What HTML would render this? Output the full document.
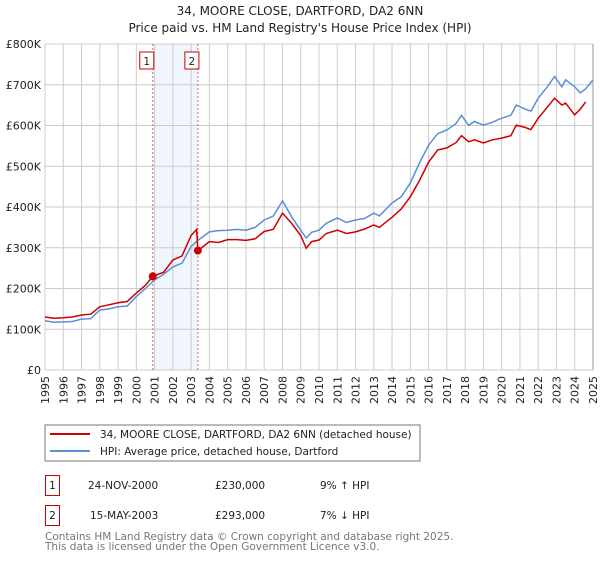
<!DOCTYPE html>
<html><head><meta charset="utf-8"><style>
body{margin:0;background:#fff;font-family:"DejaVu Sans","Liberation Sans",sans-serif;}
svg text{font-family:"DejaVu Sans","Liberation Sans",sans-serif;}
</style></head><body>
<svg id="c" width="600" height="560" xmlns="http://www.w3.org/2000/svg">
<text x="300" y="15" text-anchor="middle" font-size="12" fill="#222">34, MOORE CLOSE, DARTFORD, DA2 6NN</text>
<text x="300" y="32" text-anchor="middle" font-size="12" fill="#222">Price paid vs. HM Land Registry's House Price Index (HPI)</text>
<g id="plot"></g>
<g>
<rect x="45" y="425" width="375" height="36" fill="#fff" stroke="#777"/>
<line x1="50" y1="434" x2="90" y2="434" stroke="#cc0000" stroke-width="2"/>
<text x="100" y="438" font-size="10.5" fill="#222">34, MOORE CLOSE, DARTFORD, DA2 6NN (detached house)</text>
<line x1="50" y1="451" x2="90" y2="451" stroke="#5b8fd6" stroke-width="2"/>
<text x="100" y="455" font-size="10.5" fill="#222">HPI: Average price, detached house, Dartford</text>
</g>
<g font-size="10.5" fill="#222">
<rect x="45.5" y="475.5" width="14" height="20" fill="#fff" stroke="#cc0000"/>
<text x="52.5" y="489" text-anchor="middle">1</text>
<text x="88" y="489">24-NOV-2000</text><text x="215" y="489">£230,000</text><text x="320" y="489">9% ↑ HPI</text>
<rect x="45.5" y="505.5" width="14" height="20" fill="#fff" stroke="#cc0000"/>
<text x="52.5" y="519" text-anchor="middle">2</text>
<text x="90" y="519">15-MAY-2003</text><text x="215" y="519">£293,000</text><text x="320" y="519">7% ↓ HPI</text>
</g>
<text x="45" y="540" font-size="10.5" fill="#777">Contains HM Land Registry data © Crown copyright and database right 2025.</text>
<text x="45" y="550" font-size="10.5" fill="#777">This data is licensed under the Open Government Licence v3.0.</text>
</svg>
<script>
const hpiYears=[1995,1995.5,1996,1996.5,1997,1997.5,1998,1998.5,1999,1999.5,2000,2000.5,2001,2001.5,2002,2002.5,2003,2003.4,2004,2004.5,2005,2005.5,2006,2006.5,2007,2007.5,2008,2008.5,2009,2009.3,2009.6,2010,2010.4,2011,2011.5,2012,2012.5,2013,2013.3,2014,2014.5,2015,2015.5,2016,2016.5,2017,2017.5,2017.8,2018.2,2018.5,2019,2019.5,2020,2020.5,2020.8,2021.3,2021.6,2022,2022.5,2022.9,2023.3,2023.5,2024,2024.3,2024.6,2025];
const hpiValues=[121,117,118,119,125,126,147,150,155,157,180,200,221,235,253,262,303,319,339,342,343,345,343,350,368,378,415,376,343,324,338,343,360,373,362,368,372,385,378,410,425,459,508,552,580,589,605,625,600,610,601,608,618,625,650,640,635,667,695,720,695,712,695,680,690,712];
const redYears=[1995,1995.5,1996,1996.5,1997,1997.5,1998,1998.5,1999,1999.5,2000,2000.5,2000.9,2001.5,2002,2002.5,2003,2003.3,2003.37,2004,2004.5,2005,2005.5,2006,2006.5,2007,2007.5,2008,2008.5,2009,2009.3,2009.6,2010,2010.4,2011,2011.5,2012,2012.5,2013,2013.3,2014,2014.5,2015,2015.5,2016,2016.5,2017,2017.5,2017.8,2018.2,2018.5,2019,2019.5,2020,2020.5,2020.8,2021.3,2021.6,2022,2022.5,2022.9,2023.3,2023.5,2024,2024.3,2024.6,2025];
const redValues=[130,127,128,130,135,137,155,160,165,168,189,208,230,240,270,280,330,345,293,315,313,320,320,318,322,340,345,385,360,330,299,315,319,335,343,335,339,346,356,350,375,395,425,465,510,540,545,558,575,560,565,557,565,569,575,601,595,590,618,645,667,650,655,626,640,658];
const yTicks=[0,100,200,300,400,500,600,700,800];
const yTickLabels=["£0","£100K","£200K","£300K","£400K","£500K","£600K","£700K","£800K"];
const xTicks=[1995,1996,1997,1998,1999,2000,2001,2002,2003,2004,2005,2006,2007,2008,2009,2010,2011,2012,2013,2014,2015,2016,2017,2018,2019,2020,2021,2022,2023,2024,2025];
const sales=[{n:"1",t:2000.9,v:230},{n:"2",t:2003.37,v:293}];
const X0=45,X1=593,Y0=370,Y1=44;
const xs=t=>X0+(t-1995)/30*(X1-X0);
const ys=v=>Y0-v/800*(Y0-Y1);
const NS="http://www.w3.org/2000/svg";
const g=document.getElementById('plot');
function mk(tag,attrs,parent){const e=document.createElementNS(NS,tag);for(const k in attrs)e.setAttribute(k,attrs[k]);(parent||g).appendChild(e);return e;}
const sh=mk('rect',{x:xs(sales[0].t),y:Y1,width:xs(sales[1].t)-xs(sales[0].t),height:Y0-Y1,fill:'#eef3fc',opacity:0.8});


xTicks.forEach(t=>{const l=mk('line',{x1:xs(t),x2:xs(t),y1:Y1,y2:Y0,stroke:'#ccc'});


const tx=mk('text',{x:0,y:0,'font-size':11,fill:'#222','text-anchor':'end',transform:`translate(${xs(t)+4},${Y0+6}) rotate(-90)`});tx.textContent=t;

});
yTicks.forEach((v,i)=>{const l=mk('line',{x1:X0,x2:X1,y1:ys(v),y2:ys(v),stroke:'#ccc'});


const tx=mk('text',{x:X0-4,y:ys(v)+4,'font-size':11,fill:'#222','text-anchor':'end'});tx.textContent=yTickLabels[i];

});
sales.forEach(s=>{const l=mk('line',{x1:xs(s.t),x2:xs(s.t),y1:Y1,y2:Y0,stroke:'#e06060','stroke-dasharray':'2,2'});


const r=mk('rect',{x:xs(s.t)-13,y:52,width:14,height:17,fill:'#fff',stroke:'#cc0000'});


const tx=mk('text',{x:xs(s.t)-6,y:65,'font-size':10.5,fill:'#222','text-anchor':'middle'});tx.textContent=s.n;

});
const path=(ys_,vs)=>ys_.map((t,i)=>(i?'L':'M')+xs(t).toFixed(1)+','+ys(vs[i]).toFixed(1)).join('');
const hp=mk('path',{d:path(hpiYears,hpiValues),fill:'none',stroke:'#5b8fd6','stroke-width':1.5});


const rp=mk('path',{d:path(redYears,redValues),fill:'none',stroke:'#cc0000','stroke-width':1.5});


sales.forEach(s=>{const c=mk('circle',{cx:xs(s.t),cy:ys(s.v),r:4,fill:'#cc0000'});

});
const ax=mk('line',{x1:X1,x2:X1,y1:Y1,y2:Y0,stroke:'#999'});


</script>
</body></html>
